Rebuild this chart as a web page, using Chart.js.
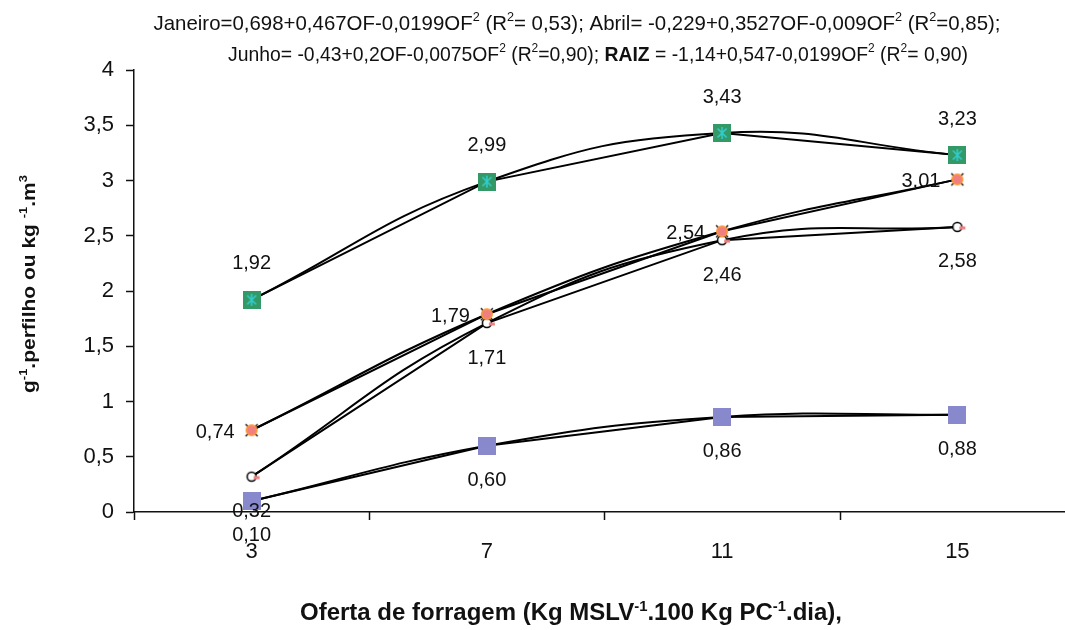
<!DOCTYPE html>
<html>
<head>
<meta charset="utf-8">
<script src="https://cdn.jsdelivr.net/npm/chart.js@4.4.1/dist/chart.umd.min.js"></script>
<style>
  html, body { margin: 0; padding: 0; background: #fff; overflow: hidden; }
  #wrap { width: 1065px; height: 630px; position: relative; }
</style>
</head>
<body>
<div id="wrap"><canvas id="myChart"></canvas></div>
<script>
// data
const xCats = [3, 7, 11, 15];
const janeiro = [1.92, 2.99, 3.43, 3.23];
const abril = [0.74, 1.79, 2.54, 3.01];
const raiz = [0.32, 1.71, 2.46, 2.58];
const junho = [0.10, 0.60, 0.86, 0.88];
const yMin = 0, yMax = 4, yStep = 0.5;

const FONT = '"Liberation Sans", Arial, sans-serif';
const toPts = arr => arr.map((v, i) => ({ x: xCats[i], y: v }));
const comma = s => String(s).replace('.', ',');

// little marker images
function mk(w, h, draw) {
  const c = document.createElement('canvas');
  c.width = w; c.height = h;
  draw(c.getContext('2d'));
  return c;
}
const greenMark = mk(18, 18, g => {
  g.fillStyle = '#339966'; g.fillRect(0, 0, 18, 18);
  g.strokeStyle = '#33CCCC'; g.lineWidth = 1.6;
  g.beginPath();
  g.moveTo(9, 3); g.lineTo(9, 15);
  g.moveTo(4.5, 4.5); g.lineTo(13.5, 13.5);
  g.moveTo(13.5, 4.5); g.lineTo(4.5, 13.5);
  g.stroke();
});
const orangeMark = mk(16, 16, g => {
  g.strokeStyle = '#000'; g.lineWidth = 1.3;
  g.beginPath();
  g.moveTo(2, 2); g.lineTo(14, 14); g.moveTo(14, 2); g.lineTo(2, 14);
  g.stroke();
  g.beginPath(); g.arc(8, 8, 5.3, 0, Math.PI * 2);
  g.fillStyle = '#F08080'; g.fill();
  g.strokeStyle = '#FF9933'; g.lineWidth = 1.6; g.stroke();
});
const raizMark = mk(26, 14, g => {
  g.beginPath(); g.arc(13, 7, 4.5, 0, Math.PI * 2);
  g.fillStyle = '#fff'; g.fill();
  g.strokeStyle = '#000'; g.lineWidth = 1.5; g.stroke();
  g.strokeStyle = '#F08080'; g.lineWidth = 3;
  g.beginPath(); g.moveTo(15, 8); g.lineTo(21, 8); g.stroke();
});
const purpleMark = mk(18, 18, g => {
  g.fillStyle = '#8888CC'; g.fillRect(0, 0, 18, 18);
});

const series = [
  { name: 'Janeiro', data: janeiro, mark: greenMark, labelPos: 'above' },
  { name: 'Abril', data: abril, mark: orangeMark, labelPos: 'left' },
  { name: 'RAIZ', data: raiz, mark: raizMark, labelPos: 'below' },
  { name: 'Junho', data: junho, mark: purpleMark, labelPos: 'below' },
];

const datasets = [];
series.forEach(s => {
  // smoothed trend curve
  datasets.push({ label: s.name + ' tend.', data: toPts(s.data), borderColor: '#000', borderWidth: 2,
    tension: 0.45, pointRadius: 0, fill: false, order: 3 });
  // straight data line
  datasets.push({ label: s.name + ' linha', data: toPts(s.data), borderColor: '#000', borderWidth: 2,
    tension: 0, pointRadius: 0, fill: false, order: 2 });
  // markers
  datasets.push({ label: s.name, data: toPts(s.data), showLine: false, pointStyle: s.mark,
    pointRadius: 9, labelPos: s.labelPos, order: 1 });
});

// rich text with superscripts, squeezed to a given width
function drawRich(ctx, segs, cx, cy, size, targetW, bold, rotate) {
  const font = (sz, b) => (b ? 'bold ' : '') + sz + 'px ' + FONT;
  let w = 0;
  const parts = segs.map(s => {
    const sz = s.sup ? size * 0.62 : size;
    ctx.font = font(sz, s.b || bold);
    const mw = ctx.measureText(s.t).width;
    w += mw;
    return Object.assign({}, s, { sz, mw });
  });
  const k = targetW ? targetW / w : 1;
  ctx.save();
  ctx.translate(cx, cy);
  if (rotate) ctx.rotate(-Math.PI / 2);
  ctx.scale(k, 1);
  ctx.textAlign = 'left';
  ctx.textBaseline = 'alphabetic';
  ctx.fillStyle = '#111';
  let x = -w / 2;
  const base = size * 0.36;
  parts.forEach(p => {
    ctx.font = font(p.sz, p.b || bold);
    ctx.fillText(p.t, x, base - (p.sup ? size * 0.4 : 0));
    x += p.mw;
  });
  ctx.restore();
}

const title1 = [
  { t: 'Janeiro=0,698+0,467OF-0,0199OF' }, { t: '2', sup: 1 }, { t: ' (R' }, { t: '2', sup: 1 },
  { t: '= 0,53); Abril= -0,229+0,3527OF-0,009OF' }, { t: '2', sup: 1 }, { t: ' (R' }, { t: '2', sup: 1 },
  { t: '=0,85);' }
];
const title2 = [
  { t: 'Junho= -0,43+0,2OF-0,0075OF' }, { t: '2', sup: 1 }, { t: ' (R' }, { t: '2', sup: 1 },
  { t: '=0,90); ' }, { t: 'RAIZ', b: 1 }, { t: ' = -1,14+0,547-0,0199OF' }, { t: '2', sup: 1 },
  { t: ' (R' }, { t: '2', sup: 1 }, { t: '= 0,90)' }
];
const xTitle = [
  { t: 'Oferta de forragem (Kg MSLV' }, { t: '-1', sup: 1 }, { t: '.100 Kg PC' }, { t: '-1', sup: 1 },
  { t: '.dia),' }
];
const yTitle = [
  { t: 'g' }, { t: '-1', sup: 1 }, { t: '.perfilho ou kg ' }, { t: '-1', sup: 1 }, { t: '.m' }, { t: '3', sup: 1 }
];

const textPlugin = {
  id: 'texts',
  afterDraw(chart) {
    const ctx = chart.ctx;
    drawRich(ctx, title1, 577, 22, 21, 847, false, false);
    drawRich(ctx, title2, 598, 53, 21, 740, false, false);
    drawRich(ctx, xTitle, 571, 612, 23, 542, true, false);
    drawRich(ctx, yTitle, 28, 284, 19, 218, true, true);
  }
};

// x tick marks sit between the categories
const xTickMarks = {
  id: 'xTickMarks',
  afterDraw(chart) {
    const sx = chart.scales.x, ctx = chart.ctx;
    const y0 = chart.chartArea.bottom;
    const vals = [xCats[0] - (xCats[1] - xCats[0]) / 2];
    for (let i = 0; i < xCats.length - 1; i++) vals.push((xCats[i] + xCats[i + 1]) / 2);
    ctx.save();
    ctx.strokeStyle = '#111'; ctx.lineWidth = 1.5;
    vals.forEach(v => {
      const px = Math.round(sx.getPixelForValue(v)) + 0.5;
      ctx.beginPath(); ctx.moveTo(px, y0); ctx.lineTo(px, y0 + 8); ctx.stroke();
    });
    ctx.restore();
  }
};

const valueLabels = {
  id: 'valueLabels',
  afterDatasetsDraw(chart) {
    const ctx = chart.ctx;
    ctx.save();
    ctx.font = '20px ' + FONT;
    ctx.fillStyle = '#111';
    ctx.textBaseline = 'middle';
    chart.data.datasets.forEach((ds, di) => {
      if (!ds.labelPos) return;
      chart.getDatasetMeta(di).data.forEach((pt, i) => {
        const txt = ds.data[i].y.toFixed(2).replace('.', ',');
        if (ds.labelPos === 'above') {
          ctx.textAlign = 'center'; ctx.fillText(txt, pt.x, pt.y - 36);
        } else if (ds.labelPos === 'left') {
          ctx.textAlign = 'right'; ctx.fillText(txt, pt.x - 17, pt.y + 2);
        } else {
          ctx.textAlign = 'center'; ctx.fillText(txt, pt.x, pt.y + 35);
        }
      });
    });
    ctx.restore();
  }
};

const ctx = document.getElementById('myChart').getContext('2d');
const chart = new Chart(ctx, {
  type: 'line',
  data: { datasets },
  options: {
    responsive: true,
    maintainAspectRatio: false,
    animation: false,
    layout: { autoPadding: false, padding: { top: 70, right: 0, bottom: 0, left: 0 } },
    plugins: { legend: { display: false }, tooltip: { enabled: false } },
    scales: {
      x: {
        type: 'linear',
        min: 1,
        max: 16.83,
        afterBuildTicks: s => { s.ticks = xCats.map(v => ({ value: v })); },
        afterFit: s => { s.height = 118; },
        grid: { drawOnChartArea: false, drawTicks: false },
        border: { display: true, color: '#111', width: 1.5 },
        ticks: { font: { size: 22, family: FONT }, color: '#111', padding: 27, maxRotation: 0, autoSkip: false }
      },
      y: {
        min: yMin,
        max: yMax,
        afterFit: s => { s.width = 134; },
        grid: { drawOnChartArea: false, tickLength: 8, tickColor: '#111', tickWidth: 1.5 },
        border: { display: true, color: '#111', width: 1.5 },
        ticks: { stepSize: yStep, font: { size: 22, family: FONT }, color: '#111', padding: 12,
          callback: v => comma(v) }
      }
    }
  },
  plugins: [xTickMarks, valueLabels, textPlugin]
});
</script>
</body>
</html>
